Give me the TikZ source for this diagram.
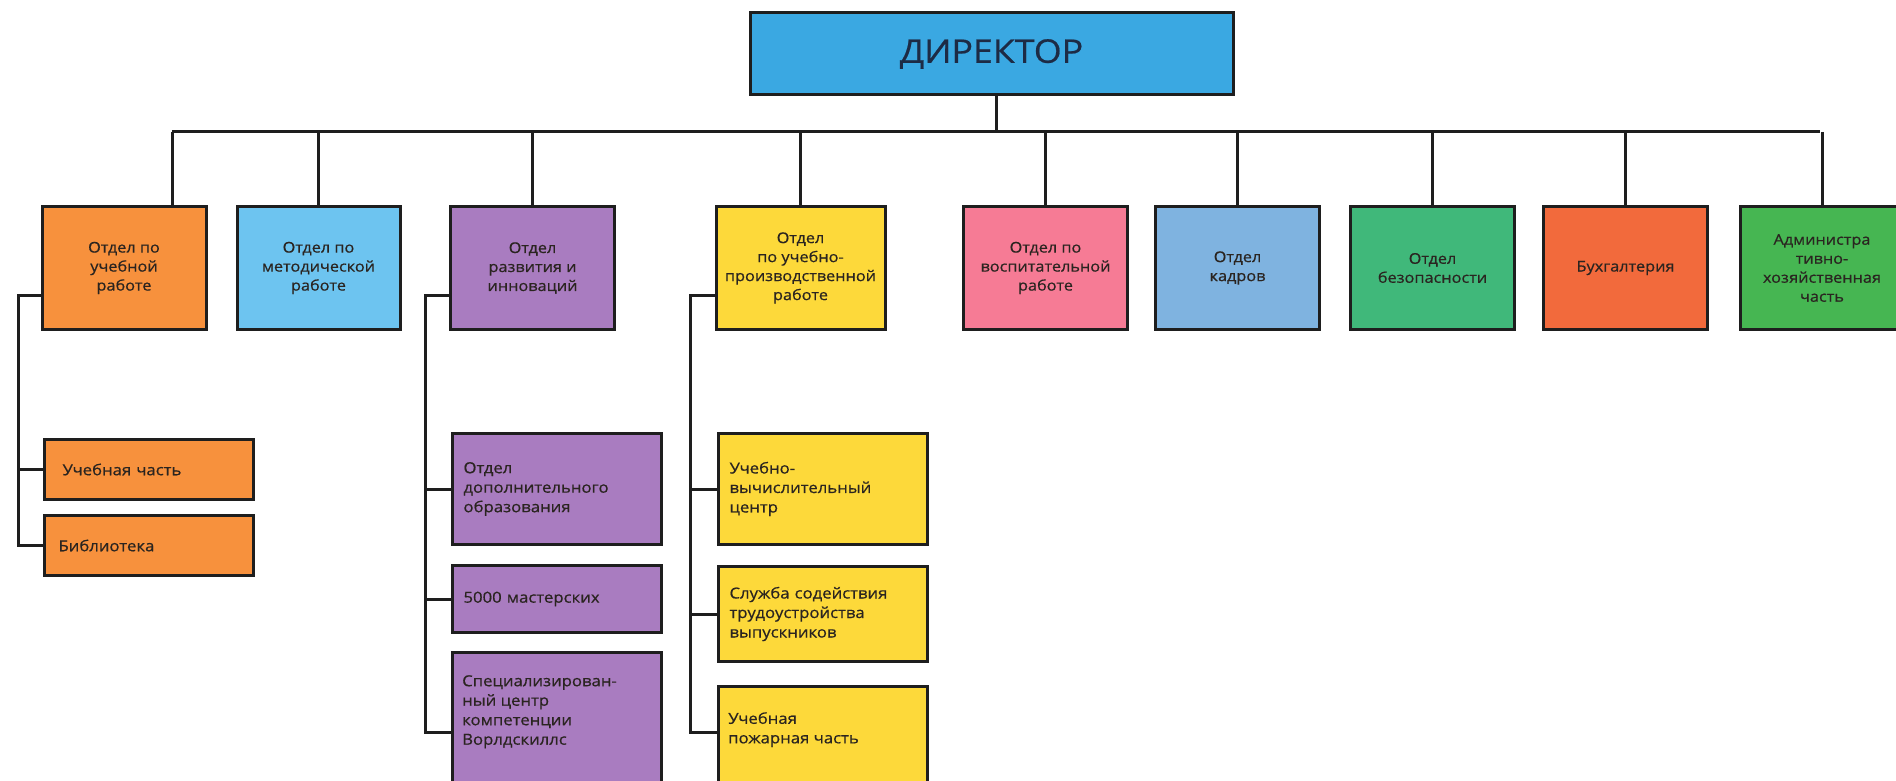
\documentclass[tikz,border=0pt]{standalone}
\usepackage{fontspec}
\setmainfont[FakeStretch=1.1, FakeBold=0.6]{Open Sans}
\definecolor{dirblue}{HTML}{3AA8E2}
\definecolor{corange}{HTML}{F7913D}
\definecolor{clblue}{HTML}{6DC4F0}
\definecolor{cpurple}{HTML}{A97CC0}
\definecolor{cyellow}{HTML}{FDD93A}
\definecolor{cpink}{HTML}{F67B95}
\definecolor{cblue}{HTML}{7FB3E0}
\definecolor{cgreen}{HTML}{40B87A}
\definecolor{cred}{HTML}{F26A3C}
\definecolor{cgreentwo}{HTML}{46B652}
\definecolor{txt}{HTML}{2A2420}
\definecolor{dirtxt}{HTML}{1D2B45}
\definecolor{edge}{HTML}{1E1E1E}
\begin{document}
\begin{tikzpicture}[x=1pt,y=-1pt,
  topbox/.style={draw=edge, line width=3pt, inner sep=0pt, text=txt,
    font=\fontsize{14.8}{19}\selectfont, align=center, minimum height=123pt},
  subbox/.style={draw=edge, line width=3pt, inner xsep=11pt, inner ysep=0pt,
    text=txt, font=\fontsize{15.2}{19.5}\selectfont, align=left,
    text width=187pt, anchor=north west},
  sublbl/.style={text=txt, font=\fontsize{15.2}{19.5}\selectfont, align=left,
    inner sep=0pt, anchor=north west},
  conn/.style={draw=edge, line width=3pt}]
\clip (0,0) rectangle (1896,781);
\useasboundingbox (0,0) rectangle (1896,781);
\fill[white] (0,0) rectangle (1896,781);

% director
\node[draw=edge, line width=3pt, fill=dirblue, minimum width=483pt, minimum height=82pt,
  inner sep=0pt, text=dirtxt, font=\fontsize{32.5}{36}\selectfont] (dir) at (991.5,54) {ДИРЕКТОР};

% top-level boxes
\node[topbox, fill=corange,   minimum width=164pt] (b1) at (124,268)    {Отдел по\\учебной\\работе};
\node[topbox, fill=clblue,    minimum width=163pt] (b2) at (318.5,268)  {Отдел по\\методической\\работе};
\node[topbox, fill=cpurple,   minimum width=164pt] (b3) at (532.5,268)  {Отдел\\развития и\\инноваций};
\node[topbox, fill=cyellow,   minimum width=169pt] (b4) at (800.5,268)  {Отдел\\по учебно-\\производственной\\работе};
\node[topbox, fill=cpink,     minimum width=164pt] (b5) at (1045.5,268) {Отдел по\\воспитательной\\работе};
\node[topbox, fill=cblue,     minimum width=164pt] (b6) at (1237.5,268) {Отдел\\кадров};
\node[topbox, fill=cgreen,    minimum width=164pt] (b7) at (1432.5,268) {Отдел\\безопасности};
\node[topbox, fill=cred,      minimum width=164pt] (b8) at (1625.5,268) {Бухгалтерия};
\node[topbox, fill=cgreentwo, minimum width=164pt] (b9) at (1822,268)   {Администра\\тивно-\\хозяйственная\\часть};

% bus
\coordinate (dd) at (996,132);
\coordinate (busl) at (172,132);
\coordinate (busr) at (1820,132);
\draw[conn] (dir.south -| dd) -- (dd);
\draw[conn] (busl) -- (busr);
\draw[conn] (busl) -- (busl |- b1.north);
\foreach \i in {2,...,9} {\draw[conn] (b\i.north |- busl) -- (b\i.north);}

% sub boxes of b1
\node[subbox, fill=corange, minimum height=60pt, inner xsep=18pt, text width=173pt] (s11) at (43,438) {Учебная часть};
\node[subbox, fill=corange, minimum height=60pt, inner xsep=14pt, text width=181pt] (s12) at (43,514) {Библиотека};

% sub boxes of b3
\node[subbox, fill=cpurple, minimum height=111pt] (s31) at (451,432) {Отдел\\дополнительного\\образования};
\node[subbox, fill=cpurple, minimum height=67pt]  (s32) at (451,564) {5000 мастерских};
\node[subbox, fill=cpurple, minimum height=160pt] (s33) at (451,651) {};
\node[sublbl] (l33) at ([xshift=11pt,yshift=-24pt]s33.north west) {Специализирован-\\ный центр\\компетенции\\Ворлдскиллс};

% sub boxes of b4
\node[subbox, fill=cyellow, minimum height=111pt] (s41) at (717,432) {Учебно-\\вычислительный\\центр};
\node[subbox, fill=cyellow, minimum height=95pt]  (s42) at (717,565) {Служба содействия\\трудоустройства\\выпускников};
\node[subbox, fill=cyellow, minimum height=130pt] (s43) at (717,685) {};
\node[sublbl] (l43) at ([xshift=11pt,yshift=-27pt]s43.north west) {Учебная\\пожарная часть};

% side trunks
\coordinate (t1) at (18,295);
\draw[conn] (t1 -| b1.west) -- (t1) |- (s12.west);
\draw[conn] (t1 |- s11.west) -- (s11.west);

\coordinate (t3) at (425,295);
\coordinate (e33) at (451,732);
\draw[conn] (t3 -| b3.west) -- (t3) |- (e33);
\draw[conn] (t3 |- s31.west) -- (s31.west);
\draw[conn] (t3 |- s32.west) -- (s32.west);

\coordinate (t4) at (690,295);
\coordinate (e43) at (717,732);
\draw[conn] (t4 -| b4.west) -- (t4) |- (e43);
\draw[conn] (t4 |- s41.west) -- (s41.west);
\draw[conn] (t4 |- s42.west) -- (s42.west);
\end{tikzpicture}
\end{document}
